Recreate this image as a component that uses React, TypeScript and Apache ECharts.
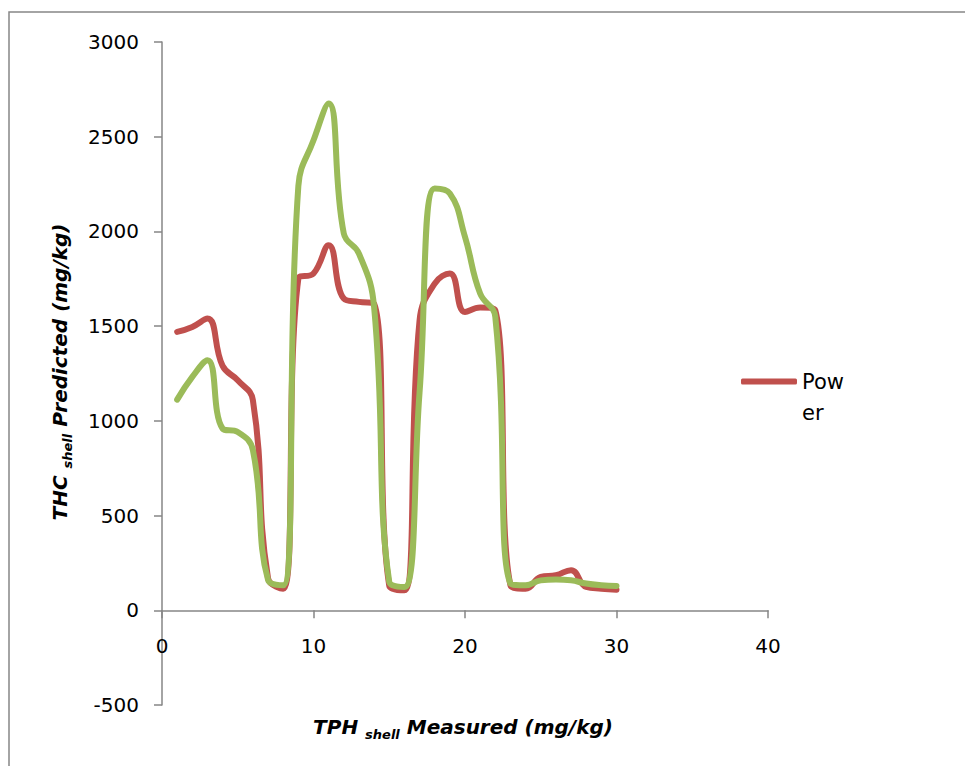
import React, { useEffect, useRef } from "react";
import * as echarts from "echarts";

const xValues = [1, 2, 3, 4, 5, 6, 7, 8, 9, 10, 11, 12, 13, 14, 15, 16, 17, 18, 19, 20, 21, 22, 23, 24, 25, 26, 27, 28, 29, 30];
const powerValues = [1470, 1496, 1540, 1290, 1214, 1109, 169, 114, 1751, 1778, 1927, 1646, 1628, 1619, 130, 106, 1530, 1725, 1778, 1575, 1598, 1584, 132, 114, 176, 185, 212, 123, 114, 109];
const otherValues = [1112, 1232, 1320, 959, 941, 845, 160, 132, 2240, 2481, 2675, 1989, 1883, 1601, 150, 123, 1150, 2226, 2200, 1971, 1672, 1549, 141, 132, 158, 162, 158, 141, 132, 128];
const seriesNames = ["Power", "Other"];
const xTitle = ["TPH ", "shell", " Measured (mg/kg)"];
const yTitle = ["THC ", "shell", " Predicted (mg/kg)"];

const FONT = "DejaVu Sans";

export default function App() {
  const ref = useRef<HTMLDivElement>(null);
  useEffect(() => {
    if (!ref.current) return;
    const chart = echarts.init(ref.current, null, { renderer: "svg" });
    const rich = {
      a: { fontFamily: FONT, fontSize: 20, fontWeight: "bold", fontStyle: "italic", color: "#000" },
      b: { fontFamily: FONT, fontSize: 13, fontWeight: "bold", fontStyle: "italic", color: "#000", padding: [14, 0, 0, 0] },
    };
    const mk = (t: string[]) => `{a|${t[0]}}{b|${t[1]}}{a|${t[2]}}`;
    chart.setOption({
      animation: false,
      backgroundColor: "#fff",
      grid: { left: 162, right: 197, top: 42, bottom: 61, containLabel: false },
      xAxis: {
        type: "value",
        min: 0,
        max: 40,
        interval: 10,
        axisLine: { show: true, onZero: true, lineStyle: { color: "#868686", width: 1.5 } },
        axisTick: { show: true, inside: false, length: 8, lineStyle: { color: "#868686", width: 1.5 } },
        axisLabel: { margin: -69, fontFamily: FONT, fontSize: 20, color: "#000", formatter: (v: number) => String(v) },
        splitLine: { show: false },
      },
      yAxis: {
        type: "value",
        min: -500,
        max: 3000,
        interval: 500,
        axisLine: { show: true, onZero: false, lineStyle: { color: "#868686", width: 1.5 } },
        axisTick: { show: true, inside: false, length: 8, lineStyle: { color: "#868686", width: 1.5 } },
        axisLabel: { margin: 23, fontFamily: FONT, fontSize: 20, color: "#000", formatter: (v: number) => String(v) },
        splitLine: { show: false },
      },
      legend: {
        data: [seriesNames[0]],
        left: 741,
        top: 335,
        padding: 0,
        itemWidth: 56,
        itemHeight: 6,
        icon: "roundRect",
        formatter: () => "\u00a0\nPow\ner",
        textStyle: { fontFamily: FONT, fontSize: 21, color: "#000", lineHeight: 31 },
      },
      series: [
        {
          name: seriesNames[0],
          type: "line",
          data: xValues.map((x, i) => [x, powerValues[i]]),
          smooth: 0.45,
          symbol: "none",
          itemStyle: { color: "#C0504D" },
          lineStyle: { color: "#C0504D", width: 6, cap: "round", join: "round" },
        },
        {
          name: seriesNames[1],
          type: "line",
          data: xValues.map((x, i) => [x, otherValues[i]]),
          smooth: 0.45,
          symbol: "none",
          itemStyle: { color: "#9BBB59" },
          lineStyle: { color: "#9BBB59", width: 6, cap: "round", join: "round" },
        },
      ],
      graphic: [
        {
          type: "rect",
          shape: { x: 9, y: 12, width: 1000, height: 900 },
          style: { fill: "none", stroke: "#878787", lineWidth: 1.5 },
          silent: true,
        },
        {
          type: "text",
          x: 463,
          y: 727,
          style: { text: mk(xTitle), rich, align: "center", verticalAlign: "middle" },
        },
        {
          type: "text",
          x: 60,
          y: 372,
          rotation: Math.PI / 2,
          style: { text: mk(yTitle), rich, align: "center", verticalAlign: "middle" },
        },
      ],
    });
    return () => chart.dispose();
  }, []);
  return <div ref={ref} style={{ position: "fixed", left: 0, top: 0, width: 965, height: 766 }} />;
}
